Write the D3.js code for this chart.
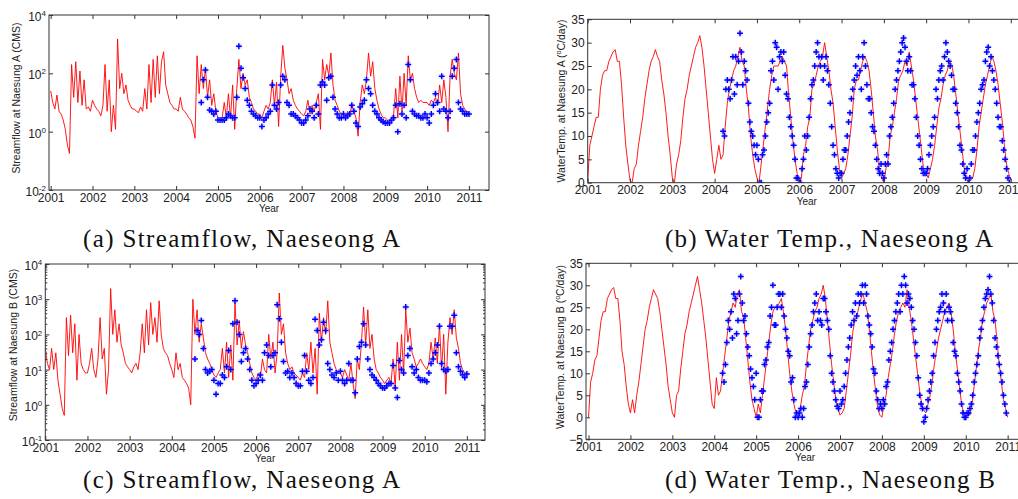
<!DOCTYPE html>
<html>
<head>
<meta charset="utf-8">
<script src="https://d3js.org/d3.v7.min.js"></script>
<style>
  body { margin: 0; background: #fff; }
  svg { display: block; }
  .tick text { font-family: "Liberation Sans", Arial, sans-serif; font-size: 12px; fill: #222; }
  .tick line { stroke: #333; }
  .caption { font-family: "Liberation Serif", "Times New Roman", serif; font-size: 25px; fill: #111; }
  .atitle { font-family: "Liberation Sans", Arial, sans-serif; fill: #222; }
</style>
</head>
<body>
<svg id="chart" width="1018" height="499"></svg>
<script>
// ---- data ----
var years = d3.range(2001, 2012);

// simulated series, one row per year, 20 samples per year (last row = 2011.0)
var flowA = [
  [25, 10, 6, 18, 5, 4, 2.5, 1.2, 0.35, 0.18, 200, 15, 250, 10, 120, 8, 60, 6, 7, 5],
  [12, 8, 6, 5, 3.5, 8, 200, 5, 60, 1, 8, 1.2, 1500, 30, 100, 20, 40, 12, 8, 6],
  [6, 5, 4.5, 7, 5, 30, 6, 200, 10, 300, 15, 400, 20, 250, 550, 40, 20, 10, 8, 6],
  [6, 5, 15, 6, 5, 4, 3, 2.5, 1.5, 0.6, 400, 20, 200, 30, 150, 15, 60, 8, 20, 5],
  [3, 2.5, 3, 10, 3, 20, 3, 40, 1.2, 30, 300, 30, 100, 40, 60, 15, 10, 6, 5, 4],
  [4, 3, 5, 8, 6, 10, 60, 8, 50, 1.5, 80, 900, 150, 60, 20, 30, 12, 8, 6, 5],
  [4, 3.5, 5, 12, 4, 8, 5, 10, 20, 1.2, 300, 60, 200, 80, 500, 40, 12, 8, 5, 4],
  [4, 3, 5, 4, 8, 5, 3, 0.7, 10, 40, 20, 60, 500, 80, 250, 30, 12, 6, 4, 3],
  [3, 2.5, 2, 3, 4, 30, 3, 80, 5, 100, 8, 400, 60, 100, 30, 15, 10, 12, 10, 10],
  [10, 8, 12, 10, 15, 8, 40, 10, 60, 15, 1, 80, 300, 100, 60, 500, 20, 8, 6, 5],
  [4]
];
var flowB = [
  [40, 15, 10, 40, 10, 30, 5, 2, 0.8, 0.5, 300, 25, 350, 30, 200, 5, 100, 15, 10, 8],
  [8, 15, 40, 10, 6, 20, 300, 20, 40, 2, 10, 2000, 100, 500, 60, 200, 50, 30, 15, 12],
  [10, 8, 12, 15, 10, 30, 200, 30, 500, 50, 800, 100, 300, 60, 900, 100, 40, 30, 25, 15],
  [10, 6, 30, 10, 15, 6, 5, 4, 3, 1, 1000, 100, 500, 60, 200, 80, 30, 20, 15, 10],
  [7, 6, 8, 10, 40, 8, 60, 6, 50, 5, 800, 50, 250, 40, 120, 50, 30, 15, 8, 6],
  [5, 8, 6, 20, 10, 8, 100, 20, 60, 8, 30, 1500, 100, 200, 30, 15, 10, 12, 8, 7],
  [6, 5, 8, 6, 30, 10, 60, 8, 40, 2, 400, 60, 300, 100, 900, 60, 30, 15, 10, 8],
  [8, 6, 10, 7, 5, 15, 4, 1.5, 20, 10, 60, 600, 50, 500, 40, 100, 20, 10, 8, 6],
  [5, 4, 5, 6, 4, 20, 3, 60, 5, 100, 8, 500, 60, 150, 30, 20, 12, 15, 20, 15],
  [12, 10, 15, 60, 20, 80, 15, 200, 10, 100, 2, 60, 300, 100, 500, 80, 40, 15, 10, 8],
  [8]
];
var tempA = [
  [0.5, 8, 10, 12, 14, 14, 20, 23, 24, 24, 26, 27, 28, 28.5, 26, 26, 21, 14, 8, 4],
  [0.5, 0, 3, 4, 8, 11, 14, 18, 21, 24, 26, 27, 28.5, 27, 26, 22, 19, 15, 10, 6],
  [1, 0, 4, 6, 9, 14, 18, 20, 23, 25, 27, 29, 30, 31.5, 29, 25, 20, 15, 10, 5],
  [2, 5, 8, 5, 6, 12, 17, 20, 22, 24, 25, 27, 29, 26, 25, 20, 16, 10, 6, 3],
  [1, 0, 4, 8, 12, 16, 20, 23, 25, 25, 25, 26, 27, 26, 25, 19, 14, 9, 5, 2],
  [0, 1, 6, 8, 12, 14, 20, 21, 23, 25, 26, 27, 30, 27, 24, 20, 17, 12, 7, 3],
  [1, 2, 3, 6, 10, 14, 20, 22, 22, 24, 26, 27, 26, 24, 20, 15, 10, 7, 3, 1],
  [0, 3, 5, 10, 12, 15, 18, 22, 23, 24, 26, 25, 28, 25, 22, 18, 14, 10, 6, 2],
  [2, 1, 3, 5, 8, 12, 16, 18, 21, 23, 24, 26, 25.5, 23, 19, 15, 11, 7, 3, 1],
  [0, 0.5, 1, 3, 7, 12, 15, 18, 21, 23, 25, 27, 26, 24, 21, 17, 13, 8, 4, 2],
  [0.5]
];
var tempB = [
  [0, 8, 10, 13, 14, 18, 22, 24, 24, 27, 28, 29, 29.5, 27, 27, 22, 15, 12, 7, 3],
  [1, 4, 1, 5, 8, 12, 16, 20, 22, 25, 27, 29, 28, 27, 24, 20, 16, 12, 7, 4],
  [1, 0, 5, 6, 11, 15, 19, 21, 24, 26, 28, 30, 32, 29, 26, 22, 18, 13, 8, 3],
  [2, 9, 5, 6, 10, 14, 18, 22, 24, 26, 25, 28, 29, 24, 23, 18, 13, 8, 4, 2],
  [0, 3, 1, 5, 9, 13, 17, 21, 24, 25, 25, 26, 27, 24, 20, 15, 10, 6, 3, 1],
  [1, 2, 5, 7, 12, 16, 20, 22, 24, 25, 27, 28, 30, 27, 22, 17, 12, 8, 4, 2],
  [0.5, 1, 2, 6, 10, 14, 19, 22, 23, 25, 27, 28, 26, 24, 20, 15, 10, 6, 2, 0.5],
  [0, 3, 5, 9, 12, 15, 19, 22, 24, 25, 26, 25, 29, 25, 22, 18, 14, 10, 6, 3],
  [1.5, 1, 3, 5, 8, 12, 15, 18, 20, 22, 24, 25, 26, 24, 20, 15, 11, 7, 3, 1],
  [0, 1, 0.5, 3, 7, 11, 15, 18, 22, 24, 26, 27, 28, 24, 22, 17, 12, 8, 4, 2],
  [0]
];

// observations, one row per year; first row starts at the given start time
var obsFlowAStart = 2004.6, obsFlowStep = 0.05;
var obsFlowA = [
  [10, 60, 130, 15, 5.5, 5, 4, 5],
  [2.5, 2.5, 2.5, 2.5, 3, 4, 3.5, 3, 3, 15, 850, 150, 70, 30, 12, 8, 5, 4, 3.5, 3],
  [3, 1.5, 2.5, 3, 4, 5, 40, 8, 6, 10, 40, 80, 60, 10, 8, 4, 4, 3.5, 3, 2.5],
  [2, 2, 2.5, 3.5, 6, 5, 3, 8, 4, 40, 50, 40, 12, 70, 80, 15, 6, 4, 3, 3],
  [4, 3, 3.5, 4, 8, 5, 2, 1.5, 7, 9, 12, 60, 30, 20, 8, 5, 4, 3, 2.5, 2.2],
  [2, 2, 2, 2.5, 3, 8, 1, 9, 4, 8, 3, 200, 60, 5, 4, 3.5, 3.5, 3, 3, 4],
  [3, 2, 4, 8, 20, 10, 5, 80, 6, 5, 3, 5, 80, 150, 300, 10, 6, 5, 4, 4],
  [4]
];
var obsFlowBStart = 2004.55;
var obsFlowB = [
  [20, 130, 100, 250, 40, 10, 8, 9, 10],
  [5, 2, 4, 4, 7, 6, 12, 35, 10, 200, 900, 220, 100, 17, 30, 40, 20, 10, 5, 3.5],
  [4, 5, 7, 5, 30, 50, 25, 12, 25, 30, 700, 280, 60, 17, 8, 9, 6, 8, 6, 4],
  [3.5, 3.5, 9, 25, 9, 5, 4, 6, 270, 130, 50, 70, 220, 130, 15, 10, 7, 6, 8, 5],
  [9, 5, 4, 5, 15, 5, 5, 2.2, 20, 45, 60, 200, 50, 20, 10, 7, 6, 5, 4, 3.5],
  [3, 3, 3.5, 4, 4, 13, 3, 1.6, 18, 10, 8, 600, 25, 40, 12, 8, 10, 6, 5, 5],
  [5, 4.5, 8, 15, 20, 30, 50, 170, 15, 10, 9, 10, 170, 170, 350, 30, 12, 9, 7, 6],
  [7.5]
];
var obsTempStart = 2004.2, obsTempStep = 1 / 30;
var obsTempA = [
  [11, 10, 20, 22, 20, 18, 22, 27, 19, 27, 21, 26, 32, 28, 21, 26, 24, 22, 17, 13, 11, 10, 8, 6],
  [8, 5, 0, 0, 6, 7, 10, 13, 15, 17, 24, 26, 22, 30, 29, 20, 27, 28, 26, 28, 23, 19, 18, 14, 12, 10, 8, 5, 1, 1],
  [0, 0, 3, 5, 10, 7, 10, 14, 18, 21, 22, 25, 28, 30, 27, 25, 27, 22, 25, 27, 24, 21, 17, 12, 8, 6, 3, 2, 1, 2],
  [2, 5, 7, 7, 10, 13, 15, 18, 20, 22, 25, 23, 27, 24, 20, 27, 30, 25, 21, 18, 18, 15, 12, 11, 8, 5, 3, 2, 4, 2],
  [1, 4, 6, 4, 10, 12, 14, 17, 20, 22, 24, 26, 28, 30, 31, 29, 26, 24, 27, 24, 21, 21, 18, 14, 10, 8, 5, 3, 2, 2],
  [2, 3, 6, 8, 10, 12, 14, 20, 18, 22, 24, 25, 22, 27, 30, 28, 26, 25, 23, 20, 20, 17, 15, 12, 8, 7, 4, 2, 1, 3],
  [0, 1, 4, 7, 7, 10, 13, 15, 17, 20, 21, 22, 26, 28, 29, 25, 27, 24, 22, 20, 17, 14, 12, 12, 9, 7, 5, 3, 1, 0]
];
var obsTempB = [
  [10, 8, 12, 17, 22, 20, 24, 18, 28, 27, 19, 22, 28, 32, 26, 22, 23, 19, 16, 14, 11, 9, 7, 4],
  [10, 0, 0, 4, 6, 6, 12, 13, 16, 17, 23, 25, 30, 21, 21, 25, 28, 28, 25, 28, 23, 20, 18, 15, 14, 8, 9, 4, 0, 1],
  [0, 1, 2, 0, 2, 7, 8, 12, 16, 19, 21, 24, 26, 28, 22, 24, 22, 21, 27, 27, 24, 22, 20, 14, 10, 8, 6, 4, 2.5, 2],
  [6, 3, 4, 7, 10, 13, 16, 18, 21, 24, 22, 26, 23, 28, 26, 28, 30, 26, 30, 28, 23, 21, 19, 16, 11, 10, 6, 4, 2, 3],
  [2, 4, 3, 7, 8, 13, 15, 17, 20, 22, 24, 26, 28, 24, 30, 28, 32, 30, 26, 28, 27, 25, 22, 20, 17, 14, 9, 5, 3, 2],
  [-1, 0, 2, 4, 6, 8, 10, 14, 17, 20, 22, 24, 25, 28, 26, 24, 28, 22, 25, 24, 22, 17, 15, 14, 10, 8, 6, 3, 1, 0],
  [0, 1, 1, 2, 3, 5, 8, 10, 12, 14, 18, 20, 22, 25, 27, 28, 29, 32, 28, 26, 22, 18, 16, 14, 12, 10, 8, 5, 3, 1]
];

var flowTicksA = [1e-2, 1, 1e2, 1e4];
var flowTicksB = [1e-1, 1, 1e1, 1e2, 1e3, 1e4];
var tempTicksA = d3.range(0, 40, 5);
var tempTicksB = d3.range(-5, 40, 5);

// ---- helpers ----
function simPoints(rows) {
  var pts = [];
  rows.forEach(function(row, r) {
    row.forEach(function(v, j) { pts.push([2001 + r + j / 20, v]); });
  });
  return pts;
}
function obsPoints(rows, start, step) {
  var pts = [];
  rows.forEach(function(row, r) {
    var t0 = r === 0 ? start : Math.floor(start) + r;
    row.forEach(function(v, j) { pts.push([t0 + j * step, v]); });
  });
  return pts;
}

var svg = d3.select("#chart");
svg.append("rect").attr("width", 1018).attr("height", 499).attr("fill", "#fff");

var panels = [
  { id: "a", left: 49, right: 489, top: 15, bottom: 190, xDomain: [2000.96, 2011.48],
    log: true, yDomain: [1e-2, 1e4], yTicks: flowTicksA, minor: false,
    sim: flowA, obs: obsPoints(obsFlowA, obsFlowAStart, obsFlowStep),
    yLabel: ["Streamflow at Naesung A (CMS)"], yLabelX: 20, yLabelY: 98,
    caption: "(a) Streamflow, Naeseong A", capX: 83, capW: 317, capY: 247 },
  { id: "b", left: 587.7, right: 1026, top: 19.3, bottom: 182.7, xDomain: [2001, 2011.36],
    log: false, yDomain: [0, 35], yTicks: tempTicksA,
    sim: tempA, obs: obsPoints(obsTempA, obsTempStart, obsTempStep),
    yLabel: ["WaterTemp. at Naesung A (", "o", "C/day)"], yLabelX: 565, yLabelY: 101,
    caption: "(b) Water Temp., Naeseong A", capX: 665, capW: 328, capY: 247 },
  { id: "c", left: 45.3, right: 485, top: 264, bottom: 440, xDomain: [2001, 2011.43],
    log: true, yDomain: [1e-1, 1e4], yTicks: flowTicksB, minor: true,
    sim: flowB, obs: obsPoints(obsFlowB, obsFlowBStart, obsFlowStep),
    yLabel: ["Streamflow at Naesung B (CMS)"], yLabelX: 16.5, yLabelY: 345,
    caption: "(c) Streamflow, Naeseong A", capX: 83, capW: 317, capY: 488 },
  { id: "d", left: 586, right: 1024, top: 263.3, bottom: 439.3, xDomain: [2000.94, 2011.39],
    log: false, yDomain: [-5, 35], yTicks: tempTicksB,
    sim: tempB, obs: obsPoints(obsTempB, obsTempStart, obsTempStep),
    yLabel: ["WaterTemp. at Naesung B (", "o", "C/day)"], yLabelX: 563.5, yLabelY: 347,
    caption: "(d) Water Temp., Naeseong B", capX: 665, capW: 330, capY: 488 }
];

panels.forEach(drawPanel);

function drawPanel(p) {
  var x = d3.scaleLinear().domain(p.xDomain).range([p.left, p.right]);
  var y = (p.log ? d3.scaleLog() : d3.scaleLinear()).domain(p.yDomain).range([p.bottom, p.top]);

  svg.append("clipPath").attr("id", "clip-" + p.id)
    .append("rect")
    .attr("x", p.left).attr("y", p.top)
    .attr("width", p.right - p.left).attr("height", p.bottom - p.top);

  var plot = svg.append("g").attr("clip-path", "url(#clip-" + p.id + ")");

  var line = d3.line()
    .x(function(d) { return x(d[0]); })
    .y(function(d) { return y(d[1]); });

  plot.append("path")
    .datum(simPoints(p.sim))
    .attr("d", line)
    .attr("fill", "none")
    .attr("stroke", "#ff0000")
    .attr("stroke-width", 0.9)
    .attr("stroke-linejoin", "round");

  var marks = plot.selectAll("g.obs")
    .data(p.obs)
    .enter()
    .append("g")
    .attr("class", "obs")
    .attr("transform", function(d) { return "translate(" + x(d[0]) + "," + y(d[1]) + ")"; });
  marks.append("path")
    .attr("d", "M-2.3,-2.3L2.3,2.3M-2.3,2.3L2.3,-2.3")
    .attr("stroke", "#7a7aff").attr("stroke-width", 1).attr("opacity", 0.55);
  marks.append("path")
    .attr("d", "M-3,0H3M0,-3V3")
    .attr("stroke", "#0000ff").attr("stroke-width", 1.5);

  // axes, ticks pointing inward
  var xb = svg.append("g").attr("transform", "translate(0," + p.bottom + ")")
    .call(d3.axisBottom(x).tickValues(years).tickFormat(d3.format("d")).tickSize(-4).tickPadding(3));
  xb.select(".domain").remove();
  var xt = svg.append("g").attr("transform", "translate(0," + p.top + ")")
    .call(d3.axisTop(x).tickValues(years).tickFormat("").tickSize(-4));
  xt.select(".domain").remove();

  var yl = svg.append("g").attr("transform", "translate(" + p.left + ",0)")
    .call(d3.axisLeft(y).tickValues(p.yTicks).tickSize(-4).tickPadding(3)
      .tickFormat(p.log ? function() { return ""; } : d3.format("d")));
  yl.select(".domain").remove();
  var yr = svg.append("g").attr("transform", "translate(" + p.right + ",0)")
    .call(d3.axisRight(y).tickValues(p.yTicks).tickFormat("").tickSize(-4));
  yr.select(".domain").remove();

  if (p.log) {
    yl.selectAll(".tick text").attr("dy", "0.45em").each(function(d) {
      var t = d3.select(this);
      t.append("tspan").text("10");
      t.append("tspan").attr("dy", "-0.6em").attr("font-size", "8px")
        .text(String(Math.round(Math.log10(d))));
    });
  }

  if (p.minor) {
    var minor = [];
    d3.range(-1, 4).forEach(function(k) {
      d3.range(2, 10).forEach(function(m) { minor.push(m * Math.pow(10, k)); });
    });
    [[d3.axisLeft, p.left], [d3.axisRight, p.right]].forEach(function(a) {
      var gm = svg.append("g").attr("transform", "translate(" + a[1] + ",0)")
        .call(a[0](y).tickValues(minor).tickFormat("").tickSize(-2));
      gm.select(".domain").remove();
    });
  }

  svg.append("rect")
    .attr("x", p.left).attr("y", p.top)
    .attr("width", p.right - p.left).attr("height", p.bottom - p.top)
    .attr("fill", "none").attr("stroke", "#333").attr("stroke-width", 1);

  // axis titles
  svg.append("text")
    .attr("class", "atitle")
    .attr("x", (p.left + p.right) / 2).attr("y", p.bottom + 22)
    .attr("text-anchor", "middle")
    .attr("font-size", 10)
    .text("Year");

  var yt = svg.append("text")
    .attr("class", "atitle")
    .attr("transform", "translate(" + p.yLabelX + "," + p.yLabelY + ") rotate(-90)")
    .attr("text-anchor", "middle")
    .attr("font-size", 10.5);
  yt.append("tspan").text(p.yLabel[0]);
  if (p.yLabel.length > 1) {
    yt.append("tspan").attr("dy", -4).attr("font-size", 7).text(p.yLabel[1]);
    yt.append("tspan").attr("dy", 4).text(p.yLabel[2]);
  }

  // caption
  svg.append("text")
    .attr("class", "caption")
    .attr("x", p.capX).attr("y", p.capY)
    .attr("textLength", p.capW).attr("lengthAdjust", "spacing")
    .text(p.caption);
}
</script>
</body>
</html>
